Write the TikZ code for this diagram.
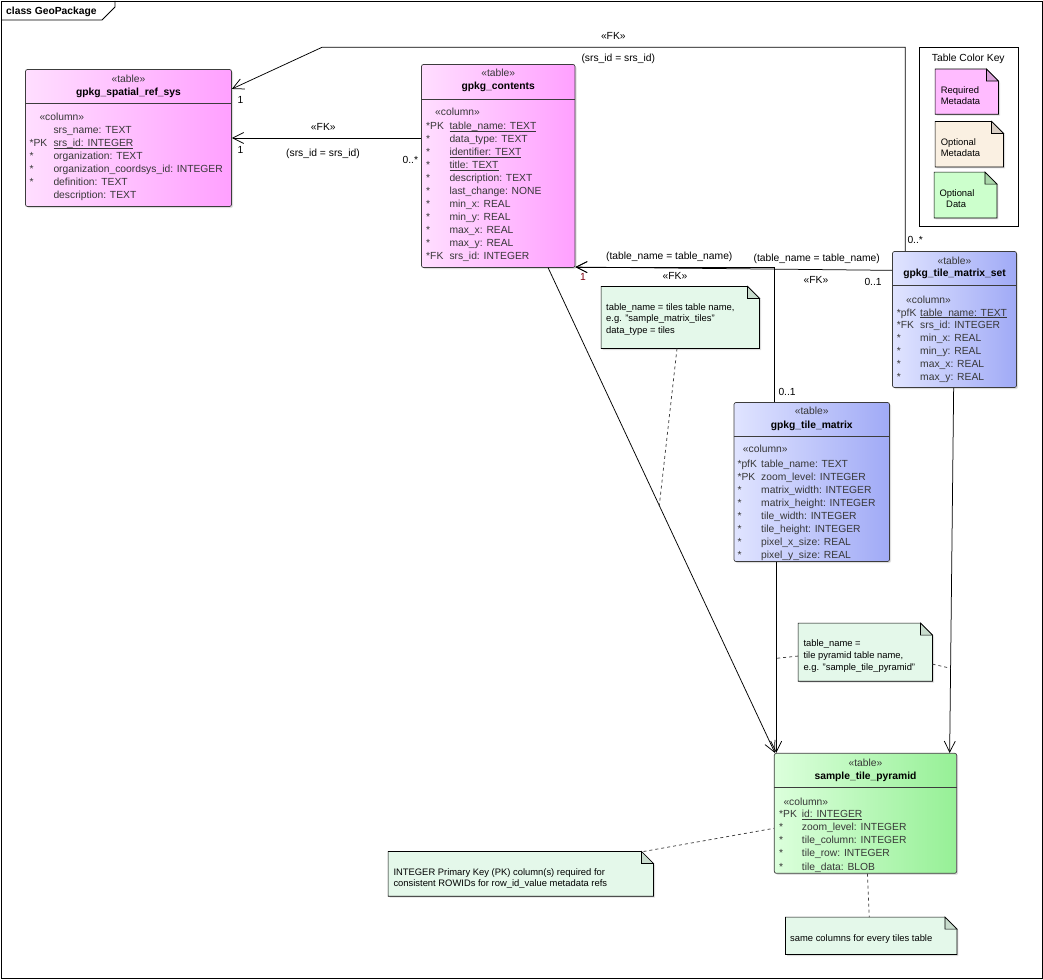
\documentclass[tikz,border=0pt]{standalone}
\usepackage{fontspec}
\setmainfont{Liberation Sans}
\usetikzlibrary{arrows.meta,shadows,calc}
\definecolor{pinkL}{RGB}{255,222,255}
\definecolor{pinkR}{RGB}{255,160,255}
\definecolor{blueL}{RGB}{224,228,255}
\definecolor{blueR}{RGB}{160,170,246}
\definecolor{greenL}{RGB}{220,255,220}
\definecolor{greenR}{RGB}{150,240,150}
\definecolor{tcol}{RGB}{55,55,55}
\definecolor{tborder}{RGB}{60,60,60}
\definecolor{notefill}{RGB}{228,248,234}
\definecolor{notefold}{RGB}{200,220,205}
\definecolor{reqfill}{RGB}{255,187,255}
\definecolor{reqfold}{RGB}{215,160,215}
\definecolor{optmfill}{RGB}{250,240,226}
\definecolor{optmfold}{RGB}{215,205,195}
\definecolor{optdfill}{RGB}{204,255,204}
\definecolor{optdfold}{RGB}{170,215,170}
\definecolor{fkred}{RGB}{128,0,16}
\tikzset{
  tbl/.style={draw=tborder, rounded corners=2pt, line width=0.7pt, inner sep=0pt,
    drop shadow={shadow xshift=1.5pt,shadow yshift=-1.5pt,opacity=0.25}},
  pinktbl/.style={tbl, left color=pinkL, right color=pinkR},
  bluetbl/.style={tbl, left color=blueL, right color=blueR},
  greentbl/.style={tbl, left color=greenL, right color=greenR},
  divline/.style={draw=tborder, line width=0.7pt},
  txt/.style={inner sep=0pt, font=\fontsize{10.3}{12}\selectfont, text=tcol, anchor=base west},
  hdr/.style={inner sep=0pt, font=\fontsize{10.3}{12}\selectfont, text=tcol, anchor=base},
  hdrb/.style={hdr, font=\fontsize{10.3}{12}\selectfont\bfseries, text=black},
  lbl/.style={inner sep=0pt, font=\fontsize{10.3}{12}\selectfont, text=black, anchor=base},
  lblw/.style={lbl, anchor=base west},
  lble/.style={lbl, anchor=base east},
  notetxt/.style={inner sep=0pt, font=\fontsize{9.4}{11}\selectfont, anchor=base west, text=black},
  noteph/.style={inner sep=0pt, draw=none},
  conn/.style={line width=0.75pt, -{Straight Barb[length=11pt,width=11pt]}},
  nline/.style={line width=0.75pt, dash pattern=on 3pt off 3pt, draw=black!75},
}
\newcommand{\trow}[6]{%
  \node[txt] (#1p) at (#2,#4) {#5};
  \node[txt] (#1f) at (#3,#4) {#6};}
\newcommand{\uln}[1]{\underline{\smash{#1}}}
\newcommand{\drawnote}[4]{%
  \draw[line width=0.7pt, fill=#2, drop shadow={shadow xshift=1.5pt,shadow yshift=-1.5pt,opacity=0.25}]
    (#1.south west) -- (#1.north west) -- ($(#1.north east)+(-#4,0)$) -- ($(#1.north east)+(0,-#4)$) -- (#1.south east) -- cycle;
  \draw[line width=0.7pt, fill=#3]
    ($(#1.north east)+(-#4,0)$) -- ($(#1.north east)+(-#4,-#4)$) -- ($(#1.north east)+(0,-#4)$) -- cycle;}
\begin{document}
\begin{tikzpicture}[x=1pt,y=-1pt]
\useasboundingbox (0,0) rectangle (1043,979);
% frame
\draw[line width=0.8pt] (1,1) rectangle (1042,978);
\draw[line width=0.8pt] (1,20) -- (102,20) -- (115,7) -- (115,1);
\node[inner sep=0pt, anchor=base west, font=\fontsize{10.3}{12}\selectfont\bfseries] (title) at (6,14.5) {class GeoPackage};

% ---------------- gpkg_spatial_ref_sys
\node[pinktbl, minimum width=206pt, minimum height=137pt] (srs) at (128.5,138) {};
\draw[divline] (srs.west |- 0,103.5) -- (srs.east |- 0,103.5);
\node[hdr] (srsT) at (128.5,82.5) {«table»};
\node[hdrb] (srsN) at (128.5,95.5) {gpkg\_spatial\_ref\_sys};
\node[txt] (srsC) at (39.3,121) {«column»};
\trow{srsA}{29.3}{53.3}{133.5}{}{srs\_name: TEXT}
\trow{srsB}{29.3}{53.3}{146.5}{*PK}{\uln{srs\_id: INTEGER}}
\trow{srsD}{29.3}{53.3}{159.5}{*}{organization: TEXT}
\trow{srsE}{29.3}{53.3}{172.5}{*}{organization\_coordsys\_id: INTEGER}
\trow{srsF}{29.3}{53.3}{185.5}{*}{definition: TEXT}
\trow{srsG}{29.3}{53.3}{198.5}{}{description: TEXT}

% ---------------- gpkg_contents
\node[pinktbl, minimum width=153.5pt, minimum height=203pt] (contents) at (498.25,166) {};
\draw[divline] (contents.west |- 0,99) -- (contents.east |- 0,99);
\node[hdr] (conT) at (498.25,76.7) {«table»};
\node[hdrb] (conN) at (498.25,90) {gpkg\_contents};
\node[txt] (conC) at (435,115) {«column»};
\trow{conA}{426}{449.3}{129.3}{*PK}{\uln{table\_name: TEXT}}
\trow{conB}{426}{449.3}{142.3}{*}{data\_type: TEXT}
\trow{conD}{426}{449.3}{155.3}{*}{\uln{identifier: TEXT}}
\trow{conE}{426}{449.3}{168.3}{*}{\uln{title: TEXT}}
\trow{conF}{426}{449.3}{181.3}{*}{description: TEXT}
\trow{conG}{426}{449.3}{194.3}{*}{last\_change: NONE}
\trow{conH}{426}{449.3}{207.3}{*}{min\_x: REAL}
\trow{conI}{426}{449.3}{220.3}{*}{min\_y: REAL}
\trow{conJ}{426}{449.3}{233.3}{*}{max\_x: REAL}
\trow{conK}{426}{449.3}{246.3}{*}{max\_y: REAL}
\trow{conL}{426}{449.3}{259.3}{*FK}{srs\_id: INTEGER}

% ---------------- gpkg_tile_matrix_set
\node[bluetbl, minimum width=124pt, minimum height=136pt] (set) at (954.5,319.5) {};
\draw[divline] (set.west |- 0,285) -- (set.east |- 0,285);
\node[hdr] (setT) at (954.5,264.3) {«table»};
\node[hdrb] (setN) at (954.5,276.7) {gpkg\_tile\_matrix\_set};
\node[txt] (setC) at (906,303.3) {«column»};
\trow{setA}{896.7}{920}{316}{*pfK}{\uln{table\_name: TEXT}}
\trow{setB}{896.7}{920}{328.8}{*FK}{srs\_id: INTEGER}
\trow{setD}{896.7}{920}{341.6}{*}{min\_x: REAL}
\trow{setE}{896.7}{920}{354.4}{*}{min\_y: REAL}
\trow{setF}{896.7}{920}{367.2}{*}{max\_x: REAL}
\trow{setG}{896.7}{920}{380}{*}{max\_y: REAL}

% ---------------- gpkg_tile_matrix
\node[bluetbl, minimum width=155.5pt, minimum height=159pt] (tm) at (811.75,482) {};
\draw[divline] (tm.west |- 0,436.7) -- (tm.east |- 0,436.7);
\node[hdr] (tmT) at (811.75,414) {«table»};
\node[hdrb] (tmN) at (811.75,428) {gpkg\_tile\_matrix};
\node[txt] (tmC) at (742.7,452.7) {«column»};
\trow{tmA}{737.3}{761}{467.3}{*pfK}{table\_name: TEXT}
\trow{tmB}{737.3}{761}{480.3}{*PK}{zoom\_level: INTEGER}
\trow{tmD}{737.3}{761}{493.3}{*}{matrix\_width: INTEGER}
\trow{tmE}{737.3}{761}{506.3}{*}{matrix\_height: INTEGER}
\trow{tmF}{737.3}{761}{519.3}{*}{tile\_width: INTEGER}
\trow{tmG}{737.3}{761}{532.3}{*}{tile\_height: INTEGER}
\trow{tmH}{737.3}{761}{545.3}{*}{pixel\_x\_size: REAL}
\trow{tmI}{737.3}{761}{558.3}{*}{pixel\_y\_size: REAL}

% ---------------- sample_tile_pyramid
\node[greentbl, minimum width=182.4pt, minimum height=120pt] (sample) at (865.5,813.3) {};
\draw[divline] (sample.west |- 0,787.3) -- (sample.east |- 0,787.3);
\node[hdr] (smpT) at (865.5,766) {«table»};
\node[hdrb] (smpN) at (865.5,779.3) {sample\_tile\_pyramid};
\node[txt] (smpC) at (783.3,805) {«column»};
\trow{smpA}{779}{801.7}{817.3}{*PK}{\uln{id: INTEGER}}
\trow{smpB}{779}{801.7}{830.5}{*}{zoom\_level: INTEGER}
\trow{smpD}{779}{801.7}{843.7}{*}{tile\_column: INTEGER}
\trow{smpE}{779}{801.7}{856.9}{*}{tile\_row: INTEGER}
\trow{smpF}{779}{801.7}{870}{*}{tile\_data: BLOB}

% ---------------- Table Color Key
\node[draw, line width=0.7pt, inner sep=0pt, minimum width=99.7pt, minimum height=178.7pt] (key) at (968.85,136.65) {};
\node[lbl] (keyT) at (968.3,61.7) {Table Color Key};
\node[noteph, minimum width=63pt, minimum height=44.7pt] (req) at (966.8,91.65) {};
\drawnote{req}{reqfill}{reqfold}{12pt}
\node[notetxt] (reqA) at (940.7,93.3) {Required};
\node[notetxt] (reqB) at (940.7,105) {Metadata};
\node[noteph, minimum width=68pt, minimum height=45pt] (optm) at (969.3,144.2) {};
\drawnote{optm}{optmfill}{optmfold}{12pt}
\node[notetxt] (optmA) at (940.7,145) {Optional};
\node[notetxt] (optmB) at (940.7,156.7) {Metadata};
\node[noteph, minimum width=62.4pt, minimum height=45.4pt] (optd) at (965.5,195) {};
\drawnote{optd}{optdfill}{optdfold}{12pt}
\node[notetxt] (optdA) at (939.3,196) {Optional};
\node[notetxt] (optdB) at (946,207.3) {Data};

% ---------------- notes
\node[noteph, minimum width=158pt, minimum height=61.6pt] (n1) at (680.3,317.5) {};
\drawnote{n1}{notefill}{notefold}{12pt}
\node[notetxt] (n1a) at (606,310) {table\_name = tiles table name,};
\node[notetxt] (n1b) at (606,321.7) {e.g. "sample\_matrix\_tiles"};
\node[notetxt] (n1c) at (606,333.3) {data\_type = tiles};

\node[noteph, minimum width=134pt, minimum height=57.7pt] (n2) at (865.3,652.15) {};
\drawnote{n2}{notefill}{notefold}{12pt}
\node[notetxt] (n2a) at (803.3,646.7) {table\_name =};
\node[notetxt] (n2b) at (803.3,658.3) {tile pyramid table name,};
\node[notetxt] (n2c) at (803.3,670) {e.g. "sample\_tile\_pyramid"};

\node[noteph, minimum width=265pt, minimum height=44.3pt] (n3) at (520.8,873.85) {};
\drawnote{n3}{notefill}{notefold}{12pt}
\node[notetxt] (n3a) at (393.3,875) {INTEGER Primary Key (PK) column(s) required for};
\node[notetxt] (n3b) at (393.3,886.7) {consistent ROWIDs for row\_id\_value metadata refs};

\node[noteph, minimum width=171pt, minimum height=37pt] (n4) at (871.2,935.8) {};
\drawnote{n4}{notefill}{notefold}{12pt}
\node[notetxt] (n4a) at (790,941) {same columns for every tiles table};

% ---------------- connectors
% A: contents -> srs
\draw[conn] (contents.west |- srs.east) -- (srs.east);
\node[lbl] (aFK) at (323.3,130.7) {«FK»};
\node[lbl] (aEq) at (323,156) {(srs\_id = srs\_id)};
\node[lblw] (aOne) at (237.3,153.3) {1};
\node[lble] (aMany) at (418.3,163.3) {0..*};

% B: tile_matrix_set -> srs
\coordinate (bk) at (322,47.3);
\draw[conn] ($(set.north west)+(13pt,0)$) |- (bk) -- ($(srs.north east)+(0,-19.8pt)$);
\node[lbl] (bFK) at (613.3,39.3) {«FK»};
\node[lbl] (bEq) at (618.3,61.7) {(srs\_id = srs\_id)};
\node[lblw] (bOne) at (237.3,103.3) {1};
\node[lblw] (bMany) at (907.3,243.3) {0..*};

% C: tile_matrix_set -> contents
\draw[conn] ($(set.north west)+(0,-19.2pt)$) -- ($(contents.south east)+(0,0.8pt)$);
\node[lbl] (cEq) at (816.7,261.7) {(table\_name = table\_name)};
\node[lbl] (cFK) at (816,283.3) {«FK»};
\node[lblw] (cMany) at (864.3,285) {0..1};
\node[lblw, text=fkred] (cOne) at (580,280) {1};

% D: tile_matrix -> contents
\draw[conn] ($(tm.north west)+(41pt,0)$) |- ($(contents.south east)+(0,0.8pt)$);
\node[lbl] (dEq) at (669.3,259) {(table\_name = table\_name)};
\node[lbl] (dFK) at (675,279.3) {«FK»};
\node[lblw] (dMany) at (778.3,395) {0..1};

% E: contents -> sample
\coordinate (eA) at ($(contents.south west)+(127pt,0)$);
\coordinate (eB) at ($(sample.north west)+(1pt,0)$);
\draw[conn] (eA) -- (eB);
% F: tile_matrix -> sample
\coordinate (fA) at ($(tm.south west)+(42.5pt,0)$);
\coordinate (fB) at ($(sample.north west)+(2.2pt,0)$);
\draw[conn] (fA) -- (fB);
% G: tile_matrix_set -> sample
\coordinate (gA) at ($(set.south west)+(61.5pt,0)$);
\coordinate (gB) at ($(sample.north east)+(-7.4pt,0)$);
\draw[conn] (gA) -- (gB);

% note links
\draw[nline] ($(n1.south)+(-3.3pt,0)$) -- ($(eA)!0.49!(eB)$);
\draw[nline] ($(n2.west)+(0,-3.9pt)$) -- ($(fA)!0.505!(fB)$);
\draw[nline] ($(n2.east)+(0,-12pt)$) -- ($(gA)!0.768!(gB)$);
\draw[nline] ($(n3.north east)+(-10pt,0)$) -- ($(sample.west)+(0,-15pt)$);
\draw[nline] ($(sample.south)+(2pt,0)$) -- ($(n4.north)+(-2pt,0)$);
\end{tikzpicture}
\end{document}
